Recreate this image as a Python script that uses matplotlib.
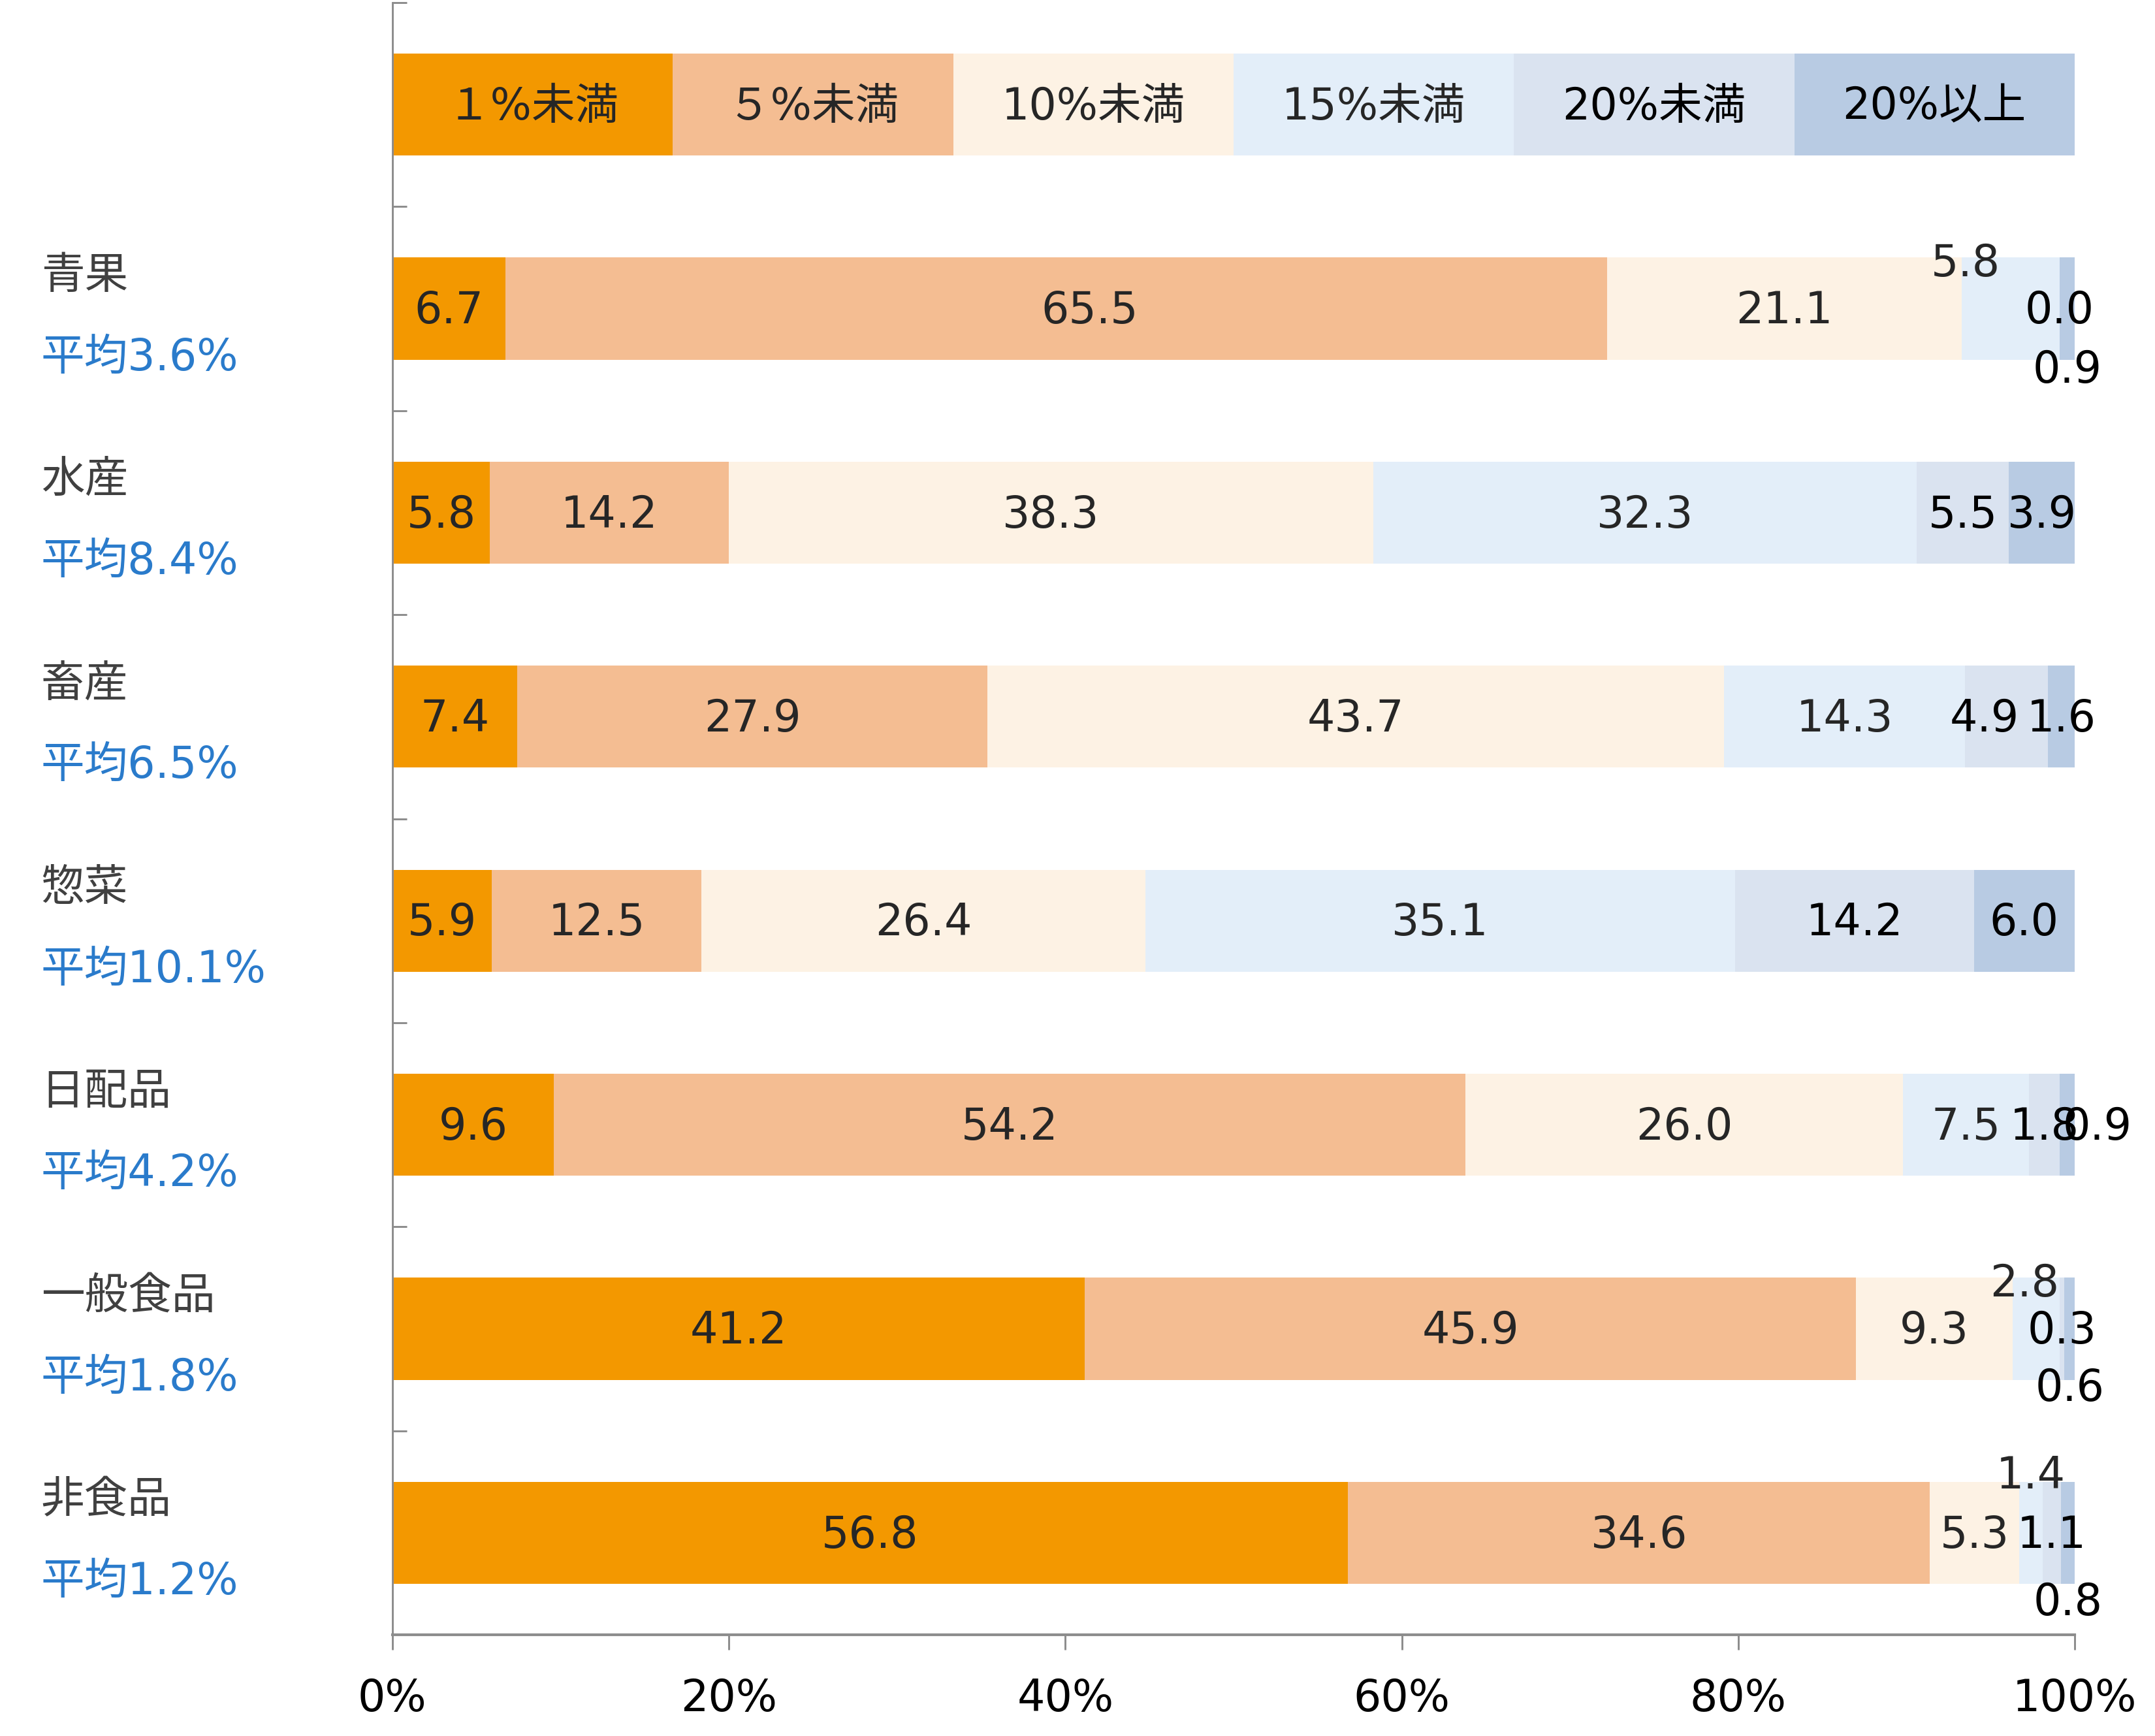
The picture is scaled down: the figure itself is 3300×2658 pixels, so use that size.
import numpy as np
import matplotlib
matplotlib.use('Agg')
import matplotlib.pyplot as plt
import matplotlib.transforms as mtransforms

plt.rcParams['font.family'] = ['DejaVu Sans', 'Noto Sans CJK JP']

# データ
series = ['１%未満', '５%未満', '10%未満', '15%未満', '20%未満', '20%以上']
categories = ['青果', '水産', '畜産', '惣菜', '日配品', '一般食品', '非食品']
averages = ['平均3.6%', '平均8.4%', '平均6.5%', '平均10.1%', '平均4.2%', '平均1.8%', '平均1.2%']
seika = [6.7, 65.5, 21.1, 5.8, 0.0, 0.9]
suisan = [5.8, 14.2, 38.3, 32.3, 5.5, 3.9]
chikusan = [7.4, 27.9, 43.7, 14.3, 4.9, 1.6]
sozai = [5.9, 12.5, 26.4, 35.1, 14.2, 6.0]
nippai = [9.6, 54.2, 26.0, 7.5, 1.8, 0.9]
ippan = [41.2, 45.9, 9.3, 2.8, 0.3, 0.6]
hishoku = [56.8, 34.6, 5.3, 1.4, 1.1, 0.8]
values = [seika, suisan, chikusan, sozai, nippai, ippan, hishoku]
x_ticks = [0, 20, 40, 60, 80, 100]

colors = ['#F39800', '#F4BD92', '#FDF2E4', '#E3EEF9', '#DAE3F0', '#B8CBE3']
text_colors = ['#262626', '#262626', '#262626', '#262626', 'black', 'black']

# 小さい値のラベル位置調整 (行, 系列): (x方向%, y方向)
label_shift = {
    (0, 1): (2.0, 0.0),
    (0, 3): (-2.7, -0.23), (0, 5): (0.0, 0.29),
    (2, 4): (-1.3, 0.0),
    (4, 5): (1.8, 0.0),
    (5, 3): (-0.7, -0.23), (5, 5): (0.0, 0.28),
    (6, 3): (0.0, -0.29), (6, 5): (0.0, 0.33),
}

fig = plt.figure(figsize=(11, 8.86), dpi=300)
ax = fig.add_axes([0.1821, 0.0583, 0.9627 - 0.1821, 0.9985 - 0.0583])

bar_h = 0.5
fs = 16
tdy = 0.012  # 文字の縦位置の微調整

# 凡例代わりの帯 (均等)
legend_vals = np.ones(len(series)) * 100 / len(series)
left = 0
for j, name in enumerate(series):
    ax.barh(0, legend_vals[j], left=left, height=bar_h, color=colors[j], linewidth=0)
    ax.text(left + legend_vals[j] / 2, tdy, name, ha='center', va='center',
            fontsize=fs, color=text_colors[j])
    left += legend_vals[j]

for i, row in enumerate(values):
    y = i + 1
    row = np.array(row)
    pct = row / row.sum() * 100
    lefts = np.concatenate([[0], np.cumsum(pct)[:-1]])
    ax.barh(y, pct, left=lefts, height=bar_h, color=colors, linewidth=0)
    for j in range(len(row)):
        dx, dy = label_shift.get((i, j), (0.0, 0.0))
        ax.text(lefts[j] + pct[j] / 2 + dx, y + dy + tdy, f'{row[j]:.1f}',
                ha='center', va='center', fontsize=fs, color=text_colors[j])

# 左側のカテゴリ名
trans = mtransforms.blended_transform_factory(fig.transFigure, ax.transData)
for i, (c, a) in enumerate(zip(categories, averages)):
    y = i + 1
    ax.text(0.019, y - 0.16, c, transform=trans, ha='left', va='center',
            fontsize=fs, color='#404040', clip_on=False)
    ax.text(0.019, y + 0.24, a, transform=trans, ha='left', va='center',
            fontsize=fs, color='#2A7BCB', clip_on=False)

n = len(categories) + 1
ax.set_ylim(n - 0.5, -0.5)
ax.set_xlim(0, 100)
ax.set_yticks(np.arange(-0.5, n, 1.0))
ax.set_yticklabels([])
ax.tick_params(axis='y', direction='in', length=5.3, width=0.7, color='#8C8C8C')
ax.set_xticks(x_ticks)
ax.set_xticklabels([f'{t}%' for t in x_ticks], fontsize=fs)
ax.tick_params(axis='x', direction='out', length=5.5, width=0.7, color='#8C8C8C', pad=10)

for s in ['top', 'right']:
    ax.spines[s].set_visible(False)
ax.spines['left'].set_color('#8C8C8C')
ax.spines['left'].set_linewidth(0.7)
ax.spines['bottom'].set_color('#8C8C8C')
ax.spines['bottom'].set_linewidth(1.0)

fig.savefig('out.png', dpi=300)
